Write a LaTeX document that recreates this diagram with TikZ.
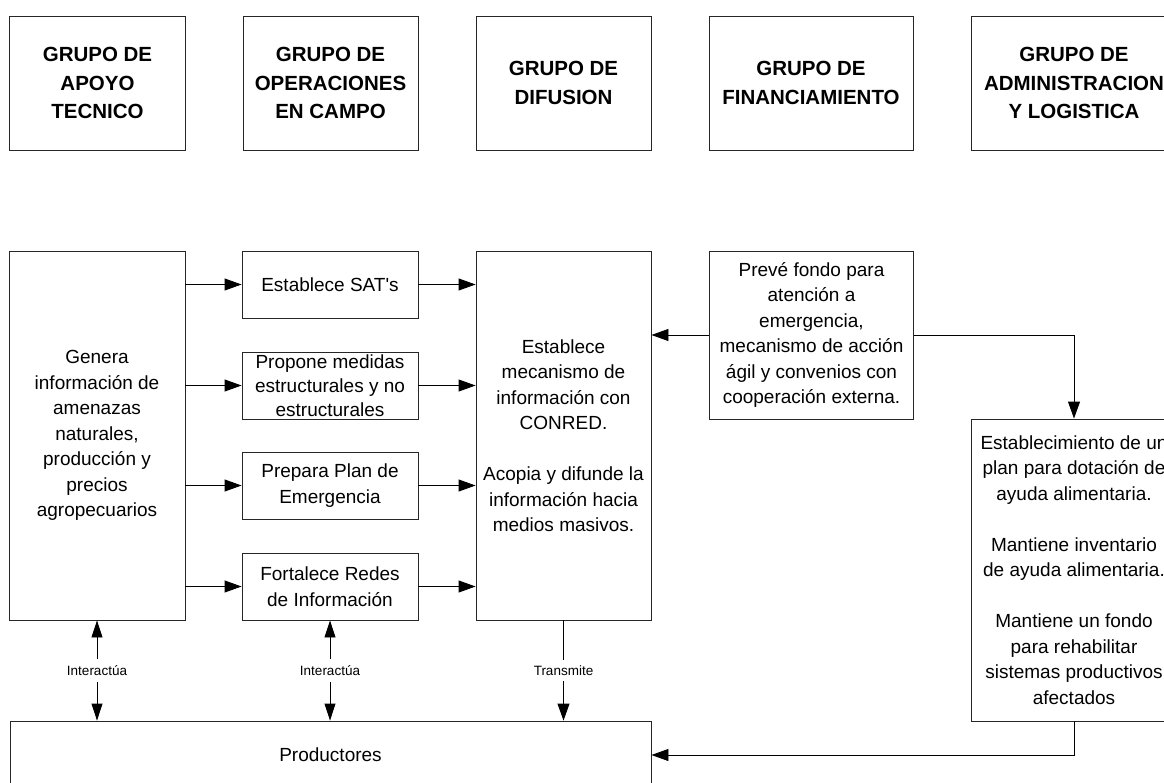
\documentclass[tikz,border=0pt]{standalone}
\usepackage{fontspec}
\setmainfont{Liberation Sans}
\usetikzlibrary{arrows.meta}
\newcommand\txthead{\fontsize{20.5}{28.5}\selectfont\bfseries}
\newcommand\txtbody{\fontsize{19}{25.5}\selectfont}
\newcommand\txtsmall{\fontsize{13.5}{15}\selectfont}
\begin{document}
\begin{tikzpicture}[x=1pt,y=-1pt,
  box/.style={draw=black!85, line width=0.9pt, rectangle, inner sep=0pt,
    align=center, font=\txtbody},
  head/.style={box, font=\txthead, minimum height=134pt},
  sbox/.style={box, minimum width=176pt, minimum height=67pt},
  arr/.style={-{Triangle[length=17pt,width=12pt]}, line width=0.9pt},
  arrboth/.style={{Triangle[length=17pt,width=11pt]}-{Triangle[length=17pt,width=11pt]}, line width=0.9pt},
  lbl/.style={fill=white, font=\txtsmall, inner xsep=2pt, inner ysep=6pt}]
\useasboundingbox (0,0) rectangle (1164,783);
\clip (0,0) rectangle (1164,783);

% group headers
\node[head, minimum width=176pt] (g1) at (97.5,83) {GRUPO DE\\APOYO\\TECNICO};
\node[head, minimum width=175pt] (g2) at (330.5,83) {GRUPO DE\\OPERACIONES\\EN CAMPO};
\node[head, minimum width=175pt] (g3) at (563.5,83) {GRUPO DE\\DIFUSION};
\node[head, minimum width=204pt] (g4) at (811,83) {GRUPO DE\\FINANCIAMIENTO};
\node[head, minimum width=206pt] (g5) at (1074,83) {GRUPO DE\\ADMINISTRACION\\Y LOGISTICA};

% activities
\node[box, minimum width=176pt, minimum height=369pt] (left) at (97,435.5)
  {Genera\\información de\\amenazas\\naturales,\\producción y\\precios\\agropecuarios};
\node[sbox] (sat) at (330,284.5) {Establece SAT\textquotesingle s};
\node[sbox] (prop) at (330,385.5) {Propone medidas\\[-1.5pt]estructurales y no\\[-1.5pt]estructurales};
\node[sbox] (plan) at (330,485.5) {Prepara Plan de\\Emergencia};
\node[sbox] (redes) at (330,586.5) {Fortalece Redes\\de Información};
\node[box, minimum width=175pt, minimum height=369pt] (mid) at (563.5,435.5)
  {Establece\\mecanismo de\\información con\\CONRED.\\[25.5pt]Acopia y difunde la\\información hacia\\medios masivos.};
\node[box, minimum width=204pt, minimum height=168pt] (prev) at (811.5,335)
  {Prevé fondo para\\atención a\\emergencia,\\mecanismo de acción\\ágil y convenios con\\cooperación externa.};
\node[box, minimum width=206pt, minimum height=302pt] (adm) at (1074,570)
  {Establecimiento de un\\plan para dotación de\\ayuda alimentaria.\\[25.5pt]Mantiene inventario\\de ayuda alimentaria.\\[25.5pt]Mantiene un fondo\\para rehabilitar\\sistemas productivos\\afectados};
\node[box, minimum width=641pt, minimum height=68pt] (prod) at (330.5,755) {Productores};

% flows between activities
\foreach \b in {sat,prop,plan,redes}{
  \draw[arr] (\b.west -| left.east) -- (\b.west);
  \draw[arr] (\b.east) -- (\b.east -| mid.west);
}
\draw[arr] (prev.west) -- (prev.west -| mid.east);
\draw[arr] (prev.east) -| (adm.north);
\draw[arr] (adm.south) |- (prod.east);

% links with producers
\draw[arrboth] (left.south) -- node[lbl] {Interactúa} (left.south |- prod.north);
\draw[arrboth] (redes.south) -- node[lbl] {Interactúa} (redes.south |- prod.north);
\draw[arr] (mid.south) -- node[lbl] {Transmite} (mid.south |- prod.north);
\end{tikzpicture}
\end{document}
